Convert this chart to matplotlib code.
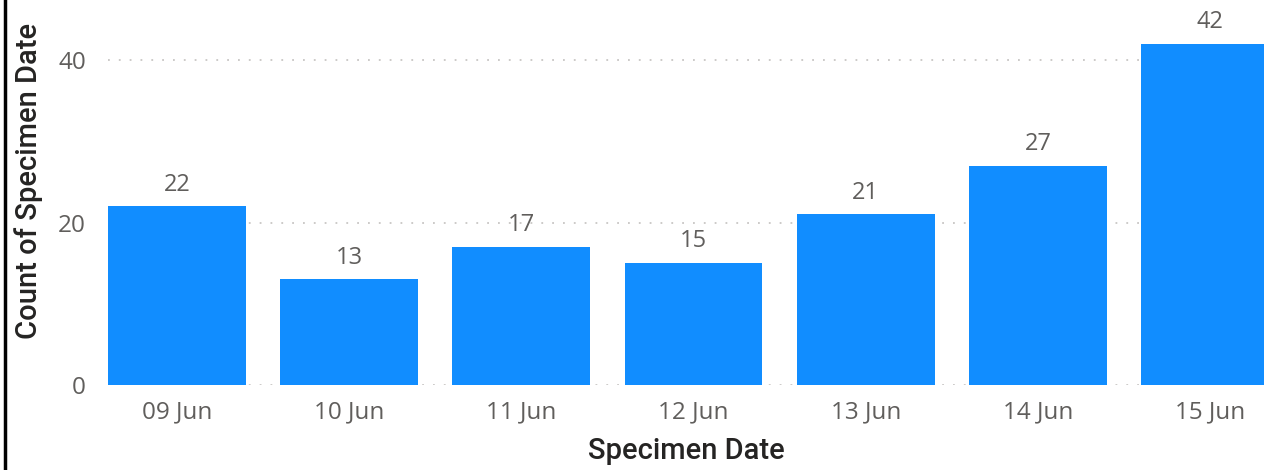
import matplotlib.pyplot as plt
from matplotlib.lines import Line2D

dates = ["09 Jun", "10 Jun", "11 Jun", "12 Jun", "13 Jun", "14 Jun", "15 Jun"]
counts = [22, 13, 17, 15, 21, 27, 42]
y_ticks = [0, 20, 40]

BAR_COLOR = "#118DFF"
TEXT_GRAY = "#605E5C"
TITLE_COLOR = "#252423"

fig = plt.figure(figsize=(12.64, 4.70), dpi=100)
ax = fig.add_axes([108 / 1264, 1 - 385 / 470, (1264 - 108) / 1264, 385 / 470])

x = range(len(dates))
bars = ax.bar(x, counts, width=0.8, color=BAR_COLOR, zorder=2)

for rect, val in zip(bars, counts):
    ax.annotate(str(val), (rect.get_x() + rect.get_width() / 2, rect.get_height()),
                xytext=(0, 7), textcoords="offset points", ha="center", va="bottom",
                fontsize=17, color=TEXT_GRAY, family="Open Sans")

ax.set_xlim(-0.4, 6.313)
ax.set_ylim(0, 47.4)
ax.set_yticks(y_ticks)
ax.set_xticks(list(x))
ax.set_xticklabels(dates)
ax.tick_params(axis="both", length=0, labelsize=17.5, colors=TEXT_GRAY)
ax.tick_params(axis="y", pad=16)
ax.tick_params(axis="x", pad=11)
for lab in ax.get_xticklabels() + ax.get_yticklabels():
    lab.set_family("Open Sans")

ax.grid(axis="y", color="#C8C6C4", linestyle=(0, (1, 5)), linewidth=1.3, zorder=1)
ax.set_axisbelow(True)
for s in ax.spines.values():
    s.set_visible(False)

ax.set_xlabel("Specimen Date", fontsize=21, color=TITLE_COLOR, family="Roboto",
              fontweight="medium", labelpad=9)
ax.set_ylabel("Count of Specimen Date", fontsize=21, color=TITLE_COLOR, family="Roboto",
              fontweight="medium")
ax.yaxis.set_label_coords(-0.056, 0.53)

fig.add_artist(Line2D([4.5 / 1264, 4.5 / 1264], [0, 1], color="black", linewidth=2.5))

fig.savefig("out.png", dpi=100)
